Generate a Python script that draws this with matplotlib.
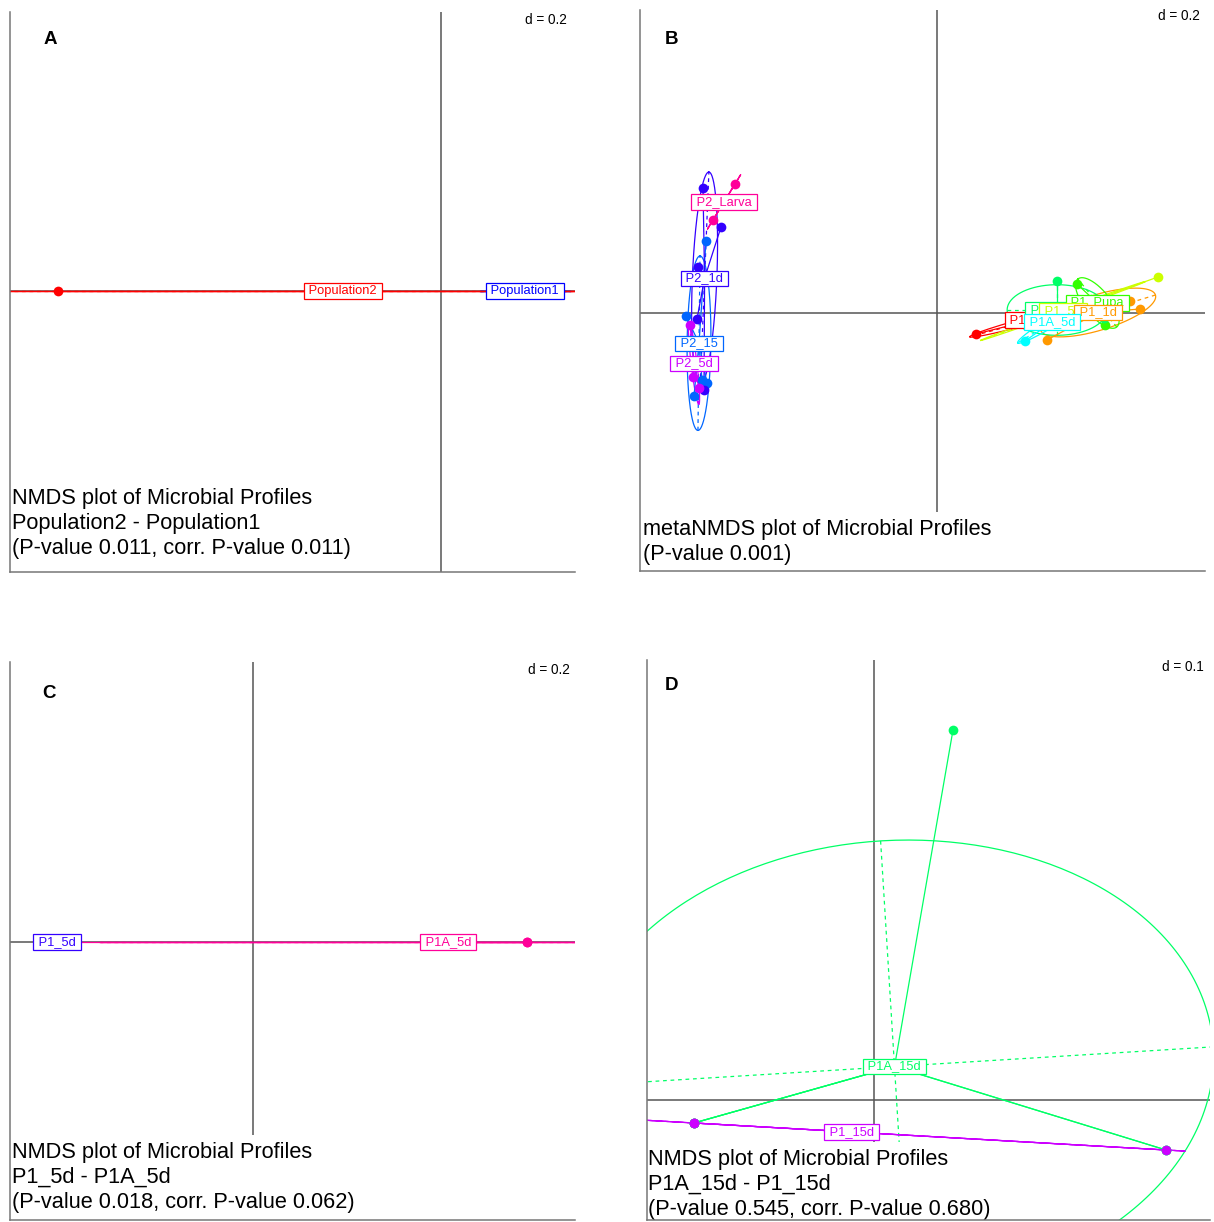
import numpy as np
import matplotlib
matplotlib.use('Agg')
import matplotlib.pyplot as plt

plt.rcParams['font.family'] = ['Liberation Sans', 'DejaVu Sans']

W, H = 1214, 1222

# rainbow(10) palette used by ade4 for panel B
RB = ['#FF0000', '#FF9900', '#CCFF00', '#33FF00', '#00FF66',
      '#00FFFF', '#0066FF', '#3300FF', '#CC00FF', '#FF0099']

# ---- Panel A : Population2 vs Population1 ----
a_groups = ['Population2', 'Population1']
a_colors = ['#FF0000', '#0000FF']
a_x = [[-0.766, 0.374], [0.108, 0.228]]
a_y = [[0.0, 0.0], [0.0, 0.0]]
a_text = 'NMDS plot of Microbial Profiles\nPopulation2 - Population1\n(P-value 0.011, corr. P-value 0.011)'

# ---- Panel B : all groups (metaNMDS) ----
b_groups = ['P1_15d', 'P1_1d', 'P1_5d', 'P1_Pupa', 'P1A_15d',
            'P1A_5d', 'P2_15', 'P2_1d', 'P2_5d', 'P2_Larva']
b_x = [[0.078, 0.216, 0.276],
       [0.386, 0.406, 0.220, 0.276],
       [0.442, 0.186, 0.186, 0.194],
       [0.280, 0.336, 0.346],
       [0.240, 0.146, 0.334, 0.240],
       [0.176, 0.226, 0.288],
       [-0.462, -0.502, -0.486, -0.460, -0.470],
       [-0.468, -0.432, -0.478, -0.480, -0.466],
       [-0.494, -0.488, -0.476],
       [-0.404, -0.448]]
b_y = [[-0.042, -0.014, 0.014],
       [0.024, 0.008, -0.054, 0.026],
       [0.072, -0.018, -0.018, -0.020],
       [0.058, -0.024, 0.026],
       [0.064, -0.010, -0.010, -0.020],
       [-0.056, -0.010, 0.012],
       [0.144, -0.006, -0.166, -0.140, -0.134],
       [0.250, 0.172, 0.092, -0.012, -0.154],
       [-0.024, -0.128, -0.150],
       [0.258, 0.186]]
# order in which the labels end up stacked (last on top)
b_label_order = [0, 4, 3, 2, 1, 5, 6, 7, 8, 9]
b_text = 'metaNMDS plot of Microbial Profiles\n(P-value 0.001)'

# ---- Panel C : P1_5d vs P1A_5d ----
c_groups = ['P1_5d', 'P1A_5d']
c_colors = ['#3300FF', '#FF0099']
c_x = [[-0.416, -0.368], [0.548, 0.548, -0.386, 0.850]]
c_y = [[0.0, 0.0], [0.0, 0.0, 0.0, 0.0]]
c_text = 'NMDS plot of Microbial Profiles\nP1_5d - P1A_5d\n(P-value 0.018, corr. P-value 0.062)'

# ---- Panel D : P1A_15d vs P1_15d ----
d_groups = ['P1A_15d', 'P1_15d']
d_colors = ['#00FF66', '#CC00FF']
d_x = [[0.079, -0.180, -0.180, -0.180, 0.292, 0.292], [-0.180, -0.180, 0.292]]
d_y = [[0.370, -0.023, -0.023, -0.023, -0.050, -0.050], [-0.023, -0.023, -0.050]]
d_text = 'NMDS plot of Microbial Profiles\nP1A_15d - P1_15d\n(P-value 0.545, corr. P-value 0.680)'


fig = plt.figure(figsize=(W / 100, H / 100), dpi=100)
fig.patch.set_facecolor('white')


def panel(box, origin, scale):
    l, t, r, b = box
    ax = fig.add_axes([l / W, 1 - b / H, (r - l) / W, (b - t) / H])
    ox, oy = origin
    ax.set_xlim((l - ox) / scale, (r - ox) / scale)
    ax.set_ylim((oy - b) / scale, (oy - t) / scale)
    ax.set_xticks([]); ax.set_yticks([])
    for s in ['top', 'right']:
        ax.spines[s].set_visible(False)
    for s in ['left', 'bottom']:
        ax.spines[s].set_color('#777777')
        ax.spines[s].set_linewidth(1.1)
        ax.spines[s].set_zorder(40)
    ax.axhline(0, color='#555555', lw=1.1, zorder=1)
    ax.axvline(0, color='#555555', lw=1.1, zorder=1)
    ax.patch.set_alpha(0)
    return ax


def px(box, x, y):
    l, t, r, b = box
    return (x - l) / (r - l), (b - y) / (b - t)


def s_class(ax, groups, colors, xs, ys, order=None):
    cents = []
    t = np.linspace(0, 2 * np.pi, 300)
    for col, x, y in zip(colors, xs, ys):
        x = np.asarray(x, float); y = np.asarray(y, float)
        cx, cy = x.mean(), y.mean()
        cents.append((cx, cy))
        cov = np.cov(np.vstack([x, y]), bias=True)
        vals, vecs = np.linalg.eigh(cov)
        vals = np.clip(vals, 0, None)
        i1, i2 = vals.argsort()[::-1]
        a, b = 1.5 * np.sqrt(vals[i1]), 1.5 * np.sqrt(vals[i2])
        v1, v2 = vecs[:, i1], vecs[:, i2]
        ex = cx + a * np.cos(t) * v1[0] + b * np.sin(t) * v2[0]
        ey = cy + a * np.cos(t) * v1[1] + b * np.sin(t) * v2[1]
        ax.plot(ex, ey, color=col, lw=0.9, zorder=2)
        ax.plot([cx - a * v1[0], cx + a * v1[0]], [cy - a * v1[1], cy + a * v1[1]],
                color=col, lw=0.9, ls=(0, (3, 3)), zorder=2)
        if b > 1e-9:
            ax.plot([cx - b * v2[0], cx + b * v2[0]], [cy - b * v2[1], cy + b * v2[1]],
                    color=col, lw=0.9, ls=(0, (3, 3)), zorder=2)
        for xi, yi in zip(x, y):
            ax.plot([cx, xi], [cy, yi], color=col, lw=0.9, zorder=3)
        ax.plot(x, y, 'o', color=col, ms=7, mec='none', zorder=4)
    if order is None:
        order = range(len(groups))
    for k, i in enumerate(order):
        cx, cy = cents[i]
        ax.text(cx, cy, ' ' + groups[i] + ' ', color=colors[i], fontsize=9.3,
                ha='center', va='center', zorder=10 + k,
                bbox=dict(boxstyle='square,pad=0.12', fc='white', ec=colors[i], lw=0.9))


def decorate(ax, box, letter, letter_xy, dlab, d_xy, caption, cap_xy):
    ax.text(*px(box, *letter_xy), letter, transform=ax.transAxes, fontsize=13.5,
            fontweight='bold', ha='center', va='center', zorder=30)
    ax.text(*px(box, *d_xy), dlab, transform=ax.transAxes, fontsize=9.8,
            ha='center', va='center', zorder=30)
    ax.text(*px(box, *cap_xy), caption, transform=ax.transAxes, fontsize=15.7,
            ha='left', va='top', linespacing=1.26, zorder=30,
            bbox=dict(boxstyle='square,pad=0.3', fc='white', ec='none'))


# A
boxA = (10, 12, 575, 572)
axA = panel(boxA, (441, 291), 500)
s_class(axA, a_groups, a_colors, a_x, a_y)
decorate(axA, boxA, 'A', (50, 40), 'd = 0.2', (546, 20), a_text, (12, 488))

# B
boxB = (640, 10, 1205, 571)
axB = panel(boxB, (937, 313), 500)
s_class(axB, b_groups, RB, b_x, b_y, b_label_order)
decorate(axB, boxB, 'B', (671, 39), 'd = 0.2', (1179, 16), b_text, (643, 519))

# C
boxC = (10, 662, 575, 1220)
axC = panel(boxC, (253, 942), 500)
s_class(axC, c_groups, c_colors, c_x, c_y)
decorate(axC, boxC, 'C', (49, 693), 'd = 0.2', (549, 670), c_text, (12, 1142))

# D
boxD = (647, 660, 1210, 1220)
axD = panel(boxD, (874, 1100), 1000)
s_class(axD, d_groups, d_colors, d_x, d_y)
decorate(axD, boxD, 'D', (671, 685), 'd = 0.1', (1183, 667), d_text, (648, 1149))

fig.savefig('out.png', dpi=100, facecolor='white')
